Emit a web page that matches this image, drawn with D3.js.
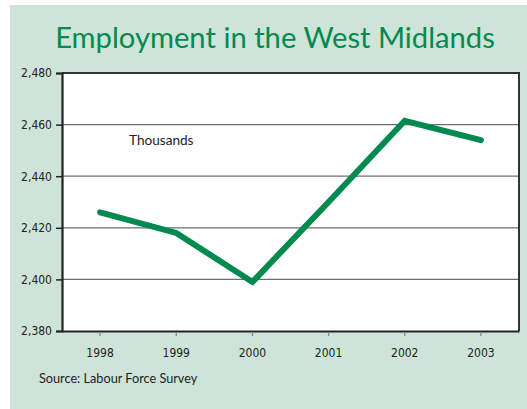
<!DOCTYPE html>
<html><head><meta charset="utf-8">
<script src="https://cdn.jsdelivr.net/npm/d3@7"></script>
<style>body{margin:0;background:#fff}svg{display:block}</style>
</head><body>
<script>
const years = ["1998","1999","2000","2001","2002","2003"];
const employment = [2426, 2418, 2399, 2430, 2461.5, 2454];
const yTicks = [2380, 2400, 2420, 2440, 2460, 2480];
const titleText = "Employment in the West Midlands";
const unitText = "Thousands";
const sourceText = "Source: Labour Force Survey";

const W = 527, H = 409;
const svg = d3.select("body").append("svg").attr("width", W).attr("height", H);
svg.append("rect").attr("x", 10).attr("y", 5).attr("width", W - 10).attr("height", H - 5).attr("fill", "#cfe4d8");

const m = {l: 62, r: 519, t: 73, b: 331};
const x = d3.scaleBand().domain(years).range([m.l, m.r]);
const y = d3.scaleLinear().domain([2380, 2480]).range([m.b, m.t]);

svg.append("rect").attr("x", m.l).attr("y", m.t).attr("width", m.r - m.l).attr("height", m.b - m.t).attr("fill", "#fff");

// gridlines
svg.append("g").selectAll("line").data(yTicks.slice(1, -1)).join("line")
  .attr("x1", m.l).attr("x2", m.r).attr("y1", d => y(d)).attr("y2", d => y(d))
  .attr("stroke", "#6e6e6e").attr("stroke-width", 1.3);

// frame top and right
svg.append("path").attr("d", `M${m.l},${m.t}H${m.r}V${m.b}`).attr("fill", "none")
  .attr("stroke", "#333").attr("stroke-width", 2);

// y axis
const ya = svg.append("g").attr("transform", `translate(${m.l},0)`)
  .call(d3.axisLeft(y).tickValues(yTicks).tickSize(6).tickPadding(4).tickFormat(d3.format(",")));
ya.select(".domain").attr("stroke", "#222").attr("stroke-width", 2.2);
ya.selectAll(".tick line").attr("stroke", "#222").attr("stroke-width", 1.5);
ya.selectAll("text").attr("font-family", "'DejaVu Sans Condensed', 'Liberation Sans Narrow', sans-serif")
  .attr("font-stretch", "condensed").attr("font-size", 12).attr("fill", "#222");

// x axis
const xa = svg.append("g").attr("transform", `translate(0,${m.b})`)
  .call(d3.axisBottom(x).tickSize(5).tickPadding(12).tickSizeOuter(0));
xa.select(".domain").attr("stroke", "#222").attr("stroke-width", 2.2);
xa.selectAll(".tick line").attr("stroke", "#888").attr("stroke-width", 1.3).attr("y1", 1);
xa.selectAll("text").attr("font-family", "'DejaVu Sans Condensed', 'Liberation Sans Narrow', sans-serif")
  .attr("font-stretch", "condensed").attr("font-size", 12).attr("fill", "#222");

// line
const line = d3.line().x((d, i) => x(years[i]) + x.bandwidth() / 2).y(d => y(d));
svg.append("path").datum(employment).attr("d", line).attr("fill", "none")
  .attr("stroke", "#008a50").attr("stroke-width", 6).attr("stroke-linecap", "round").attr("stroke-linejoin", "miter");

svg.append("text").attr("x", 275).attr("y", 48).attr("text-anchor", "middle")
  .attr("font-family", "Lato, 'Open Sans', sans-serif").attr("font-size", 29.2).attr("fill", "#008a50").text(titleText);
svg.append("text").attr("x", 129).attr("y", 145)
  .attr("font-family", "Lato, 'Open Sans', sans-serif").attr("font-size", 13.6).attr("fill", "#222").text(unitText);
svg.append("text").attr("x", 39).attr("y", 383)
  .attr("font-family", "Lato, 'Open Sans', sans-serif").attr("font-size", 12.7).attr("fill", "#222").text(sourceText);
</script>
</body></html>
